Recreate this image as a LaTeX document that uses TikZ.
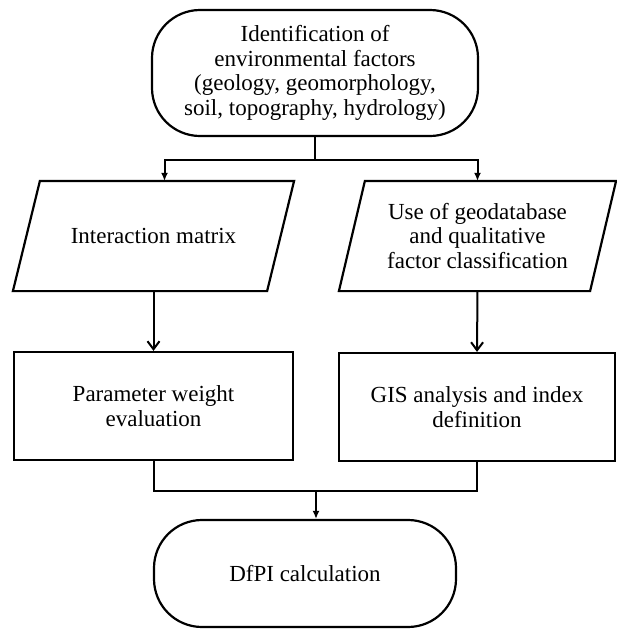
\documentclass[tikz,border=0pt]{standalone}
\usepackage{fontspec}
\setmainfont{Liberation Serif}
\usetikzlibrary{positioning,arrows.meta}

\begin{document}
\begin{tikzpicture}[x=1pt,y=-1pt,
    every node/.style={font=\fontsize{23}{24.5}\selectfont,align=center,line width=2.2pt},
    term/.style={draw,rectangle,rounded corners=48pt,minimum width=#1,inner sep=0pt},
    io/.style={rectangle,minimum width=#1,minimum height=108pt,inner sep=0pt},
    proc/.style={draw,rectangle,minimum width=#1,minimum height=108pt,inner sep=0pt},
    arr/.style={line width=2pt,-{Latex[length=8pt,width=7pt]}},
    barb/.style={line width=2pt,-{Straight Barb[length=8pt,width=12pt]}},
    link/.style={line width=2pt}]

\useasboundingbox (0,0) rectangle (617,630);

\node[term=326pt,minimum height=126pt] (ident) at (315,73)
    {Identification of\\environmental factors\\(geology, geomorphology,\\soil, topography, hydrology)};

\node[io=279pt] (matrix) at (153.5,236) {Interaction matrix};
\node[io=275pt] (geodb) at (477.5,236) {Use of geodatabase\\and qualitative\\factor classification};

% slanted input boxes
\foreach \n/\s in {matrix/27pt, geodb/26pt}
    \draw[line width=2.2pt] ([xshift=\s]\n.north west) -- (\n.north east)
        -- ([xshift=-\s]\n.south east) -- (\n.south west) -- cycle;

\node[proc=279pt] (weight) at (153.5,406) {Parameter weight\\evaluation};
\node[proc=276pt] (gis) at (477,407) {GIS analysis and index\\definition};

\node[term=302pt,minimum height=107pt] (dfpi) at (305,573.5) {DfPI calculation};

% split below the first step
\coordinate (split) at (ident.south |- 0,160);
\draw[link] (ident.south) -- (split);
\draw[arr] (split) -| ([xshift=11pt]matrix.north);
\draw[arr] (split) -| (geodb.north);

\draw[barb] (matrix.south) -- (weight.north);
\draw[barb] (geodb.south) -- (gis.north);

% join towards the result
\coordinate (join) at (316,491);
\draw[link] (weight.south) |- (join) -| (gis.south);
\draw[arr] (join) -- (join |- dfpi.north);

\end{tikzpicture}
\end{document}
